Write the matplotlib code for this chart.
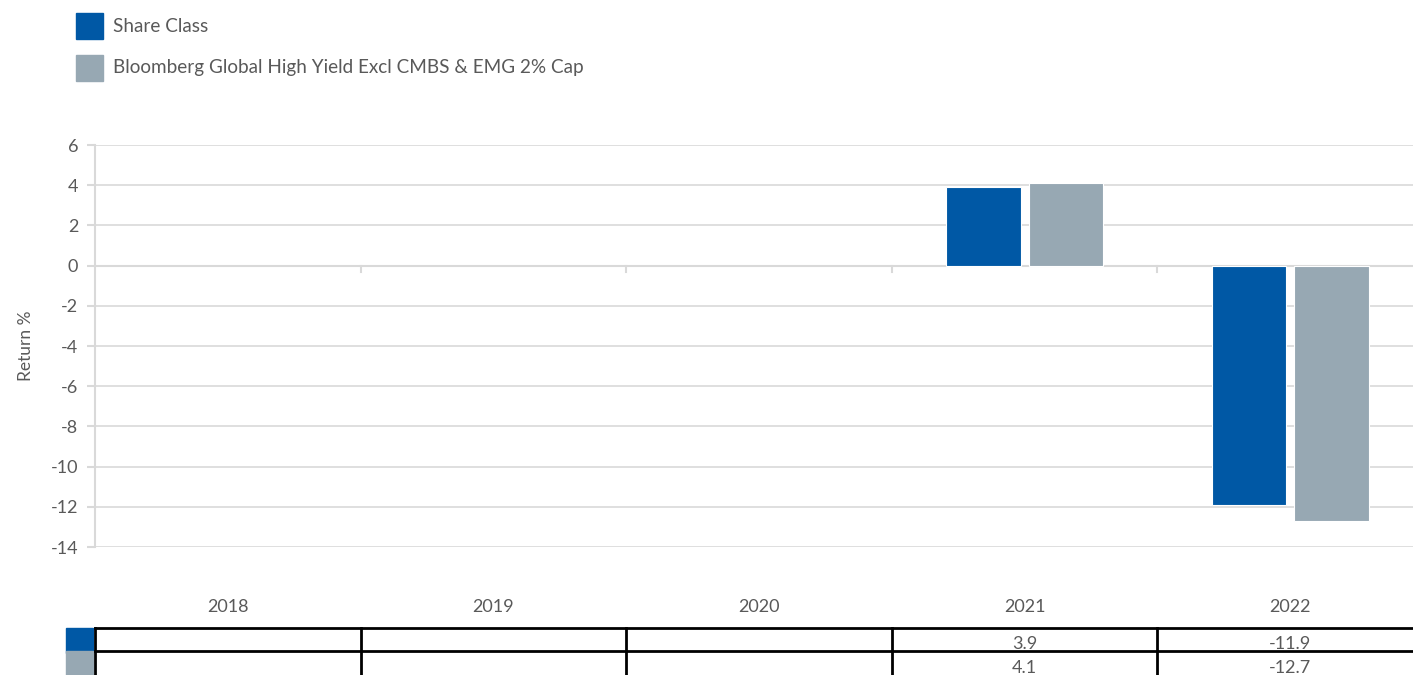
import numpy as np
import matplotlib.pyplot as plt
from matplotlib.patches import Rectangle

# calendar year returns, blank where the share class had no full year
years = ['2018', '2019', '2020', '2021', '2022']
share_class = [np.nan, np.nan, np.nan, 3.9, -11.9]
benchmark = [np.nan, np.nan, np.nan, 4.1, -12.7]
series_names = ['Share Class', 'Bloomberg Global High Yield Excl CMBS & EMG 2% Cap']
colors = ['#0058a5', '#97a8b3']

plt.rcParams['font.family'] = ['Lato', 'DejaVu Sans']
plt.rcParams['axes.unicode_minus'] = False
txt_col = '#595959'
grid_col = '#d9d9d9'

W, H = 1413, 675
fig = plt.figure(figsize=(W / 100, H / 100), dpi=100)

def fig_rect(x0, y0, x1, y1):
    # pixel box (top-left origin) -> figure fraction rect
    return [x0 / W, 1 - y1 / H, (x1 - x0) / W, (y1 - y0) / H]

# main bar axes
ax = fig.add_axes(fig_rect(95, 145, 1413, 547))
x = np.arange(len(years))
cat_px = 265.6
xmax = -0.5 + (1413 - 95) / cat_px
bw = 0.28
off = 0.155
for vals, col, sgn in [(share_class, colors[0], -1), (benchmark, colors[1], 1)]:
    ax.bar(x + sgn * off, vals, width=bw, color=col, edgecolor='white', linewidth=0.8, zorder=3)

ax.set_xlim(-0.5, xmax)
ax.set_ylim(-14, 6)
ax.set_yticks(np.arange(-14, 7, 2))
ax.grid(axis='y', color=grid_col, linewidth=1.2, zorder=0)
ax.axhline(0, color=grid_col, linewidth=1.5, zorder=1)
# small category dividers hanging off the zero line
for d in np.arange(0.5, len(years) - 0.5, 1):
    ax.plot([d, d], [0, -0.3], color=grid_col, linewidth=1.5, zorder=1)
for s in ['top', 'right', 'bottom']:
    ax.spines[s].set_visible(False)
ax.spines['left'].set_color(grid_col)
ax.spines['left'].set_linewidth(1.5)
ax.tick_params(axis='y', colors=grid_col, length=6, width=1.5, labelcolor=txt_col,
               labelsize=13, pad=6)
ax.set_xticks([])
ax.set_ylabel('Return %', color=txt_col, fontsize=12.5, labelpad=12)

# data table underneath
tab = fig.add_axes(fig_rect(95, 585, 1413, 698))
tab.set_xlim(-0.5, xmax)
tab.set_ylim(0, 113)
tab.invert_yaxis()
tab.axis('off')
row_top = [43, 66]
row_h = 23
text_y = [59, 83]
for i, yr in enumerate(years):
    tab.text(i, 22, yr, ha='center', va='center', color=txt_col, fontsize=13)
for r, vals in enumerate([share_class, benchmark]):
    for i, v in enumerate(vals):
        if not np.isnan(v):
            tab.text(i, text_y[r], f'{v:.1f}', ha='center', va='center',
                     color=txt_col, fontsize=13)
lw = 2.0
for yy in [43, 66]:
    tab.plot([-0.5, xmax], [yy, yy], color='black', linewidth=lw, clip_on=False)
for d in np.arange(-0.5, len(years), 1):
    tab.plot([d, d], [43, 113], color='black', linewidth=lw, clip_on=False)
# series keys left of the table
key_w = 27 / cat_px
for r in range(2):
    tab.add_patch(Rectangle((-0.5 - key_w - 2 / cat_px, row_top[r]), key_w, row_h + 2,
                            color=colors[r], clip_on=False))

# legend at the top
for r, name in enumerate(series_names):
    y0 = 13 + r * 42
    fig.patches.append(Rectangle((76 / W, 1 - (y0 + 26) / H), 27 / W, 26 / H,
                                 color=colors[r], transform=fig.transFigure))
    fig.text(113 / W, 1 - (y0 + 13) / H, name, ha='left', va='center',
             color=txt_col, fontsize=13.6)

fig.savefig('out.png', dpi=100)
